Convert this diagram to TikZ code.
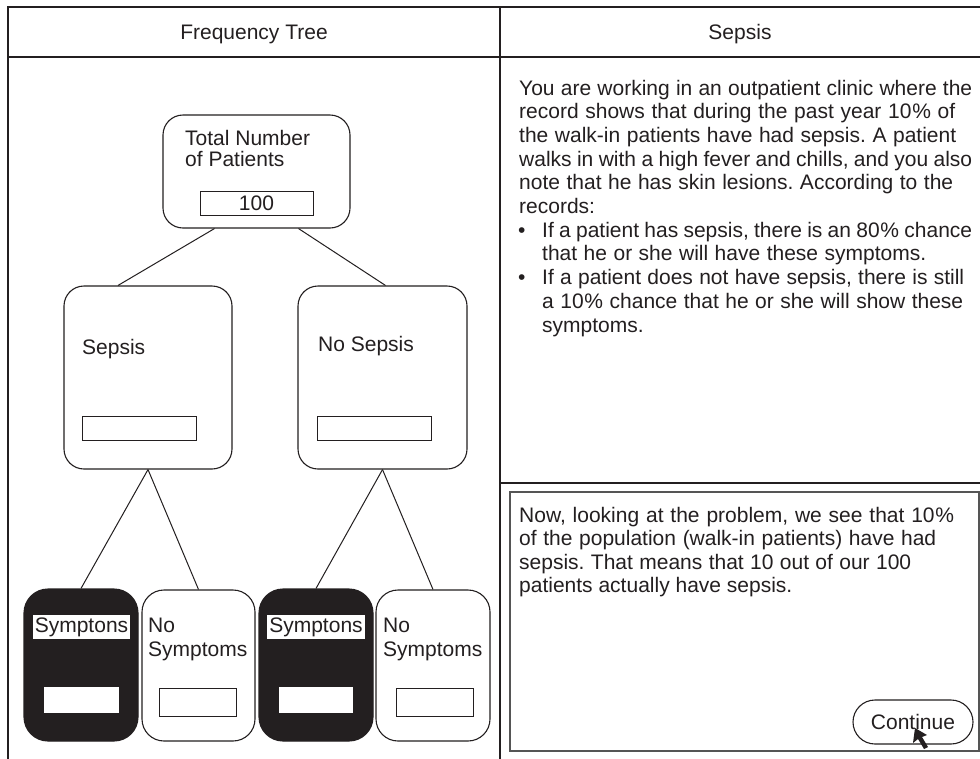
\documentclass[tikz,border=0pt]{standalone}
\usepackage{fontspec}
\setmainfont{Liberation Sans}
\usetikzlibrary{calc}
\definecolor{ink}{HTML}{231F20}
\definecolor{panelgray}{HTML}{555555}
\newcommand{\pct}{\kern0.8pt\%}
\newcommand{\jline}[2]{\makebox[#1pt][s]{#2}}
\begin{document}
\frenchspacing
\begin{tikzpicture}[x=1pt,y=-1pt,
  framel/.style={draw=ink, line width=1.6pt},
  panel/.style={draw=panelgray, line width=1.8pt},
  rbox/.style={draw=ink, line width=1.1pt, rounded corners=20pt, inner sep=0pt, fill=white},
  dbox/.style={draw=ink, fill=ink, line width=1.1pt, rounded corners=24pt, inner sep=0pt},
  vbox/.style={draw=ink, line width=1pt, inner sep=0pt, fill=white, font=\fontsize{21}{24}\selectfont, text=ink},
  wbox/.style={fill=white, inner sep=0pt},
  txt/.style={anchor=base west, inner sep=0pt, font=\fontsize{21}{24}\selectfont, text=ink},
  lab/.style={anchor=base, fill=white, text height=15pt, text depth=5pt, inner xsep=2pt, inner ysep=2pt, font=\fontsize{21}{24}\selectfont, text=ink},
  conn/.style={draw=ink, line width=1pt}]
\useasboundingbox (0,0) rectangle (980,758);
\fill[white] (0,0) rectangle (980,758);
% frame
\draw[framel] (8,762) -- (8,7) -- (984,7);
\draw[framel] (8,57) -- (984,57);
\draw[framel] (500,7) -- (500,762);
\draw[framel] (500,483) -- (984,483);
\draw[panel] (510,492) rectangle (979,751);
% headers
\node[txt, anchor=base] (h1) at (254,39) {Frequency Tree};
\node[txt, anchor=base] (h2) at (740,39) {Sepsis};
% tree nodes
\node[rbox, minimum width=187pt, minimum height=113pt] (root) at (256.5,171.5) {};
\node[vbox, minimum width=113pt, minimum height=24pt] (rootv) at (256.5,203) {100};
\node[txt] (roota) at (185,145) {Total Number};
\node[txt] (rootb) at (185,166) {of Patients};
\node[rbox, minimum width=168pt, minimum height=183pt] (sep) at (148,377.5) {};
\node[vbox, minimum width=114pt, minimum height=24pt] (sepv) at (139,428) {};
\node[txt] (sepl) at (82,354) {Sepsis};
\node[rbox, minimum width=169pt, minimum height=183pt] (nosep) at (382.5,377.5) {};
\node[vbox, minimum width=114pt, minimum height=24pt] (nosepv) at (374,428) {};
\node[txt] (nosepl) at (318,351) {No Sepsis};
% leaves
\node[dbox, minimum width=114pt, minimum height=152pt] (l1) at (81,665) {};
\node[wbox, minimum width=75pt, minimum height=26pt] (l1v) at (81.5,700) {};
\node[lab] (l1l) at (81.5,632) {Symptons};
\node[rbox, rounded corners=22pt, minimum width=113pt, minimum height=151pt] (l2) at (198.5,665.5) {};
\node[vbox, minimum width=77pt, minimum height=28pt] (l2v) at (197.5,702) {};
\node[txt] (l2a) at (148,632) {No};
\node[txt] (l2b) at (148,656) {Symptoms};
\node[dbox, minimum width=114pt, minimum height=152pt] (l3) at (316,665) {};
\node[wbox, minimum width=74pt, minimum height=26pt] (l3v) at (316,700) {};
\node[lab] (l3l) at (316,632) {Symptons};
\node[rbox, rounded corners=22pt, minimum width=114pt, minimum height=151pt] (l4) at (433,665.5) {};
\node[vbox, minimum width=77pt, minimum height=28pt] (l4v) at (434.5,702) {};
\node[txt] (l4a) at (383,632) {No};
\node[txt] (l4b) at (383,656) {Symptoms};
% connectors
\draw[conn] ($(root.south)+(-42,0)$) -- ($(sep.north)+(-30,0)$);
\draw[conn] ($(root.south)+(42,0)$) -- ($(nosep.north)+(3,0)$);
\draw[conn] (sep.south) -- (l1.north);
\draw[conn] (sep.south) -- (l2.north);
\draw[conn] (nosep.south) -- (l3.north);
\draw[conn] (nosep.south) -- (l4.north);
% right text
\node[txt] (p1) at (519,95) {\jline{453}{You are working in an outpatient clinic where the}};
\node[txt] (p2) at (519,118.7) {\jline{436}{record shows that during the past year 10\pct{} of}};
\node[txt] (p3) at (519,142.4) {\jline{437}{the walk-in patients have had sepsis. A patient}};
\node[txt] (p4) at (519,166.1) {\jline{453}{walks in with a high fever and chills, and you also}};
\node[txt] (p5) at (519,189.8) {\jline{434}{note that he has skin lesions. According to the}};
\node[txt] (p6) at (519,213.5) {records:};
\node[txt] (bu1) at (518,237.2) {\textbullet};
\node[txt] (q1) at (542,237.2) {\jline{430}{If a patient has sepsis, there is an 80\pct{} chance}};
\node[txt] (q2) at (542,260.9) {\jline{384}{that he or she will have these symptoms.}};
\node[txt] (bu2) at (518,284.6) {\textbullet};
\node[txt] (q3) at (542,284.6) {\jline{422}{If a patient does not have sepsis, there is still}};
\node[txt] (q4) at (542,308.3) {\jline{421}{a 10\pct{} chance that he or she will show these}};
\node[txt] (q5) at (542,332) {symptoms.};
\node[txt] (n1) at (519,522) {\jline{435}{Now, looking at the problem, we see that 10\pct}};
\node[txt] (n2) at (519,545.5) {\jline{417}{of the population (walk-in patients) have had}};
\node[txt] (n3) at (519,569) {\jline{392}{sepsis. That means that 10 out of our 100}};
\node[txt] (n4) at (519,592.5) {patients actually have sepsis.};
% continue button
\node[draw=ink, line width=1.1pt, rounded corners=22pt, minimum width=120pt, minimum height=44pt, inner sep=0pt, font=\fontsize{21}{24}\selectfont, text=ink] (cont) at (913,722) {Continue};
\fill[ink] (915,728) -- (913,743) -- (918,739) -- (924,749) -- (928,747) -- (922,737) -- (927,735) -- cycle;
\end{tikzpicture}
\end{document}
